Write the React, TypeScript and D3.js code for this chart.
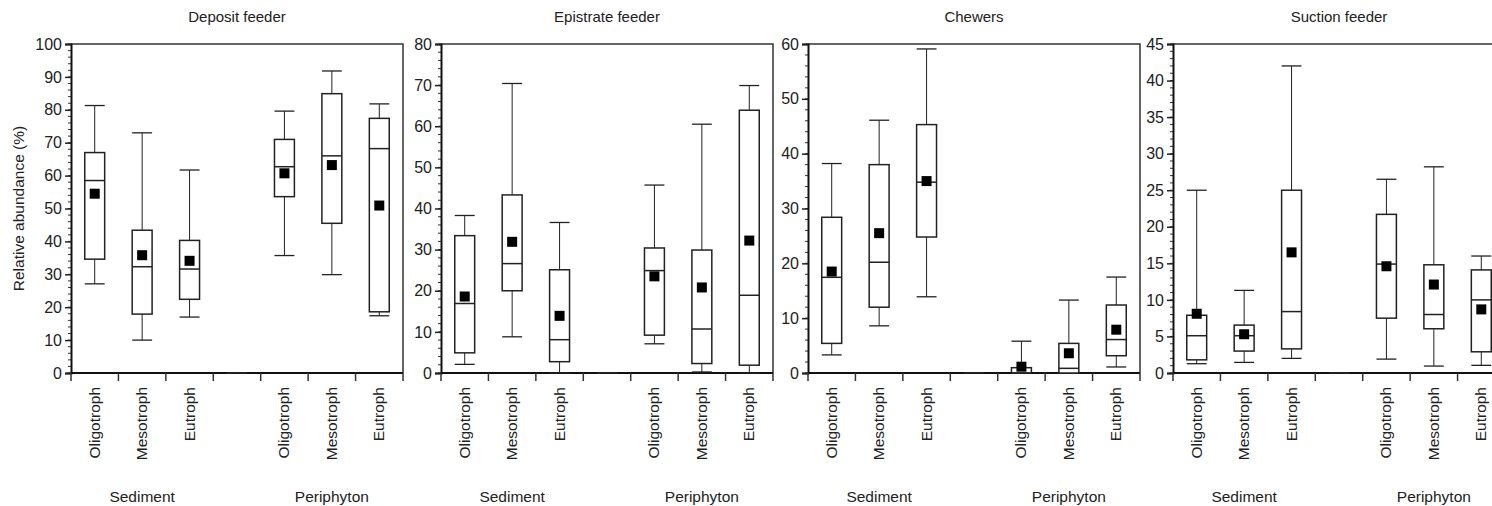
import * as d3 from "d3";
import { useRef, useEffect } from "react";

// x categories (the empty slot separates the two habitats)
const categories = ["Oligotroph", "Mesotroph", "Eutroph", "", "Oligotroph", "Mesotroph", "Eutroph"];
const groups = [
  { name: "Sediment", from: 0, to: 2 },
  { name: "Periphyton", from: 4, to: 6 },
];

// [whisker low, Q1, median, Q3, whisker high, mean]
const depositFeeder = [
  [27.1, 34.6, 58.5, 67.0, 81.3, 54.5],
  [10.0, 17.9, 32.3, 43.4, 73.0, 35.8],
  [17.0, 22.4, 31.6, 40.3, 61.7, 34.1],
  [0, 0, 0, 0, 0, null],
  [35.7, 53.6, 62.7, 71.0, 79.6, 60.7],
  [29.9, 45.5, 66.0, 84.9, 91.8, 63.2],
  [17.4, 18.6, 68.2, 77.4, 81.8, 50.9],
];
const epistrateFeeder = [
  [2.1, 4.9, 16.9, 33.4, 38.3, 18.6],
  [8.8, 20.0, 26.6, 43.3, 70.4, 31.9],
  [0, 2.75, 8.1, 25.1, 36.6, 13.9],
  [0, 0, 0, 0, 0, null],
  [7.1, 9.2, 24.9, 30.4, 45.7, 23.5],
  [0.25, 2.3, 10.7, 29.9, 60.5, 20.8],
  [0, 1.9, 18.9, 63.9, 69.9, 32.2],
];
const chewers = [
  [3.3, 5.4, 17.45, 28.4, 38.2, 18.5],
  [8.6, 12.0, 20.2, 38.0, 46.1, 25.5],
  [13.9, 24.8, 34.8, 45.3, 59.1, 35.0],
  [0, 0, 0, 0, 0, null],
  [0, 0, 0, 0.97, 5.8, 1.15],
  [0, 0, 0.85, 5.4, 13.3, 3.6],
  [1.1, 3.15, 6.1, 12.4, 17.5, 7.9],
];
const suctionFeeder = [
  [1.27, 1.8, 5.1, 7.9, 25.0, 8.1],
  [1.45, 3.0, 5.1, 6.55, 11.3, 5.3],
  [2.0, 3.3, 8.4, 25.0, 42.0, 16.5],
  [0, 0, 0, 0, 0, null],
  [1.9, 7.5, 14.9, 21.7, 26.5, 14.6],
  [0.95, 6.05, 8.0, 14.8, 28.2, 12.1],
  [1.05, 2.9, 10.0, 14.1, 16.0, 8.7],
];

const titles = ["Deposit feeder", "Epistrate feeder", "Chewers", "Suction feeder"];
const yMax = [100, 80, 60, 45];
const yStep = [10, 10, 10, 5];
const yMinor = [2, 2, 2, 1];
const panelData = [depositFeeder, epistrateFeeder, chewers, suctionFeeder];

function App() {
  const svgRef = useRef(null);

  useEffect(() => {
    const WIDTH = 1492;
    const HEIGHT = 506;
    const TOP = 44;
    const BOTTOM = 373;
    const PW = 332;
    const panelLeft = [71, 441, 808, 1173];
    const font = "'Liberation Sans', Arial, Helvetica, sans-serif";
    const ink = "#222";

    const svg = d3.select(svgRef.current)
      .attr("width", WIDTH)
      .attr("height", HEIGHT)
      .style("font-family", font);
    svg.selectAll("*").remove();

    svg.append("text")
      .attr("transform", `translate(24, ${(TOP + BOTTOM) / 2}) rotate(-90)`)
      .attr("text-anchor", "middle")
      .attr("font-size", 15.5)
      .attr("fill", ink)
      .text("Relative abundance (%)");

    panelData.forEach((rows, p) => {
      const x = d3.scaleBand().domain(d3.range(categories.length).map(String))
        .range([panelLeft[p], panelLeft[p] + PW]);
      const y = d3.scaleLinear().domain([0, yMax[p]]).range([BOTTOM, TOP]);
      const g = svg.append("g");
      const bw = x.bandwidth() * 0.42;

      g.append("text")
        .attr("x", panelLeft[p] + PW / 2)
        .attr("y", 22)
        .attr("text-anchor", "middle")
        .attr("font-size", 15)
        .attr("fill", ink)
        .text(titles[p]);

      // frame: top and right
      g.append("path")
        .attr("d", `M${x.range()[0]},${TOP}H${x.range()[1]}V${BOTTOM}`)
        .attr("fill", "none")
        .attr("stroke", "#333")
        .attr("stroke-width", 1.5);

      // minor ticks
      g.append("g").selectAll("line")
        .data(d3.range(0, yMax[p] + 0.001, yMinor[p]))
        .join("line")
        .attr("x1", panelLeft[p] - 3).attr("x2", panelLeft[p])
        .attr("y1", d => y(d)).attr("y2", d => y(d))
        .attr("stroke", "#333").attr("stroke-width", 1);

      const yAxis = d3.axisLeft(y)
        .tickValues(d3.range(0, yMax[p] + 0.001, yStep[p]))
        .tickSize(6)
        .tickPadding(3);
      const ya = g.append("g")
        .attr("transform", `translate(${panelLeft[p]},0)`)
        .call(yAxis);
      ya.select(".domain").attr("stroke", "#111").attr("stroke-width", 2);
      ya.selectAll(".tick line").attr("stroke", "#222").attr("stroke-width", 1.5);
      ya.selectAll(".tick text")
        .attr("font-size", 16)
        .attr("font-family", font)
        .attr("fill", ink);

      // bottom axis with ticks at band boundaries
      g.append("line")
        .attr("x1", x.range()[0]).attr("x2", x.range()[1])
        .attr("y1", BOTTOM).attr("y2", BOTTOM)
        .attr("stroke", "#111").attr("stroke-width", 2);
      g.append("g").selectAll("line")
        .data(d3.range(categories.length + 1))
        .join("line")
        .attr("x1", i => x.range()[0] + i * x.step())
        .attr("x2", i => x.range()[0] + i * x.step())
        .attr("y1", BOTTOM).attr("y2", BOTTOM + 8)
        .attr("stroke", "#333").attr("stroke-width", 1.5);

      g.append("g").selectAll("text")
        .data(categories)
        .join("text")
        .attr("transform", (d, i) => {
          const cx = x(String(i)) + x.bandwidth() / 2 + 5;
          return `translate(${cx},${BOTTOM + 14}) rotate(-90)`;
        })
        .attr("text-anchor", "end")
        .attr("font-size", 15.5)
        .attr("fill", ink)
        .text(d => d);

      g.append("g").selectAll("text")
        .data(groups)
        .join("text")
        .attr("x", d => (x(String(d.from)) + x(String(d.to)) + x.bandwidth()) / 2)
        .attr("y", 502)
        .attr("text-anchor", "middle")
        .attr("font-size", 15.5)
        .attr("fill", ink)
        .text(d => d.name);

      const boxes = g.append("g").selectAll("g")
        .data(rows)
        .join("g")
        .attr("transform", (d, i) => `translate(${x(String(i)) + x.bandwidth() / 2},0)`);

      // whiskers
      boxes.append("line")
        .attr("y1", d => y(d[0])).attr("y2", d => y(d[1]))
        .attr("stroke", ink).attr("stroke-width", 1);
      boxes.append("line")
        .attr("y1", d => y(d[3])).attr("y2", d => y(d[4]))
        .attr("stroke", ink).attr("stroke-width", 1);
      boxes.append("line")
        .attr("x1", -bw / 2).attr("x2", bw / 2)
        .attr("y1", d => y(d[0])).attr("y2", d => y(d[0]))
        .attr("stroke", ink).attr("stroke-width", 1.3);
      boxes.append("line")
        .attr("x1", -bw / 2).attr("x2", bw / 2)
        .attr("y1", d => y(d[4])).attr("y2", d => y(d[4]))
        .attr("stroke", ink).attr("stroke-width", 1.3);

      boxes.append("rect")
        .attr("x", -bw / 2)
        .attr("width", bw)
        .attr("y", d => y(d[3]))
        .attr("height", d => y(d[1]) - y(d[3]))
        .attr("fill", "white")
        .attr("stroke", ink)
        .attr("stroke-width", d => (d[4] === 0 ? 3 : 1.5));
      boxes.append("line")
        .attr("x1", -bw / 2).attr("x2", bw / 2)
        .attr("y1", d => y(d[2])).attr("y2", d => y(d[2]))
        .attr("stroke", ink).attr("stroke-width", 1.5);

      boxes.filter(d => d[5] != null)
        .append("rect")
        .attr("x", -5).attr("width", 10)
        .attr("y", d => y(d[5]) - 5).attr("height", 10)
        .attr("fill", "#000");
    });
  }, []);

  return (
    <div style={{ position: "absolute", left: 0, top: 0 }}>
      <svg ref={svgRef} style={{ display: "block" }} />
    </div>
  );
}

export default App;
